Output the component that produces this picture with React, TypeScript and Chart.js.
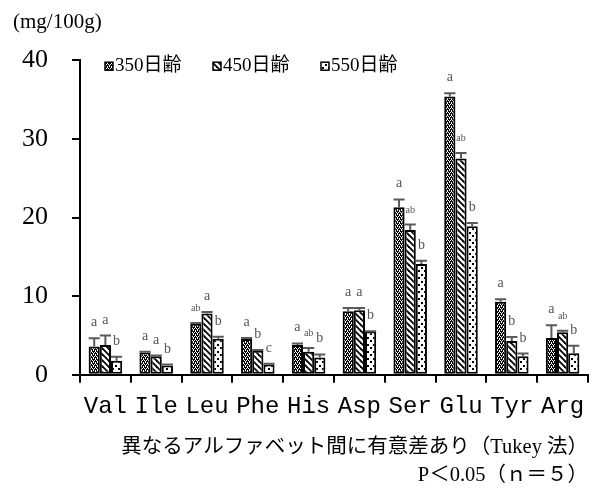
import React, { useEffect, useRef } from 'react';
import { Chart, registerables } from 'chart.js';

Chart.register(...registerables);

const categories = ['Val', 'Ile', 'Leu', 'Phe', 'His', 'Asp', 'Ser', 'Glu', 'Tyr', 'Arg'];
const seriesNames = ['350日齢', '450日齢', '550日齢'];
const mean350 = [3.6, 2.85, 6.5, 4.55, 3.8, 8.1, 21.3, 35.4, 9.3, 4.7];
const sd350 = [1.05, 0.1, 0.1, 0.15, 0.2, 0.4, 1.0, 0.4, 0.3, 1.6];
const mean450 = [3.8, 2.35, 7.8, 3.05, 2.95, 8.2, 18.4, 27.5, 4.3, 5.4];
const sd450 = [1.2, 0.1, 0.2, 0.1, 0.45, 0.3, 0.7, 0.7, 0.5, 0.2];
const mean550 = [1.8, 1.2, 4.6, 1.3, 2.2, 5.5, 14.1, 18.9, 2.35, 2.75];
const sd550 = [0.5, 0.1, 0.25, 0.1, 0.4, 0.05, 0.4, 0.4, 0.35, 0.95];
const letters350 = ['a', 'a', 'ab', 'a', 'a', 'a', 'a', 'a', 'a', 'a'];
const letters450 = ['a', 'a', 'a', 'b', 'ab', 'a', 'ab', 'ab', 'b', 'ab'];
const letters550 = ['b', 'b', 'b', 'c', 'b', 'b', 'b', 'b', 'b', 'b'];
const yTicks = [0, 10, 20, 30, 40];
const unitLabel = '(mg/100g)';
const noteLines = ['異なるアルファベット間に有意差あり（Tukey 法）', 'P＜0.05（ｎ＝５）'];

const SERIF = '"Liberation Serif", "Noto Sans CJK JP", serif';
const MONO = '"Liberation Mono", monospace';

function makePattern(kind: number): CanvasPattern | string {
  const c = document.createElement('canvas');
  const g = c.getContext('2d');
  if (!g) return '#888';
  if (kind === 0) {
    c.width = 4; c.height = 4;
    g.fillStyle = '#000';
    g.fillRect(0, 0, 4, 4);
    g.fillStyle = '#fff';
    g.fillRect(0, 0, 1, 1);
    g.fillRect(2, 0, 1, 1);
    g.fillRect(1, 2, 1, 1);
    g.fillRect(3, 2, 1, 1);
    g.fillRect(1, 1, 1, 1);
    g.fillRect(3, 3, 1, 1);
  } else if (kind === 1) {
    c.width = 6; c.height = 6;
    g.fillStyle = '#fff';
    g.fillRect(0, 0, 6, 6);
    g.strokeStyle = '#000';
    g.lineWidth = 1.8;
    for (let k = -1; k <= 1; k++) {
      g.beginPath();
      g.moveTo(k * 6 - 1, -1);
      g.lineTo(k * 6 + 7, 7);
      g.stroke();
    }
  } else {
    c.width = 6; c.height = 7;
    g.fillStyle = '#fff';
    g.fillRect(0, 0, 6, 7);
    g.fillStyle = '#000';
    g.fillRect(1, 1, 2, 2);
    g.fillRect(4, 4, 2, 2);
  }
  const p = g.createPattern(c, 'repeat');
  return p || '#888';
}

const errorPlugin = {
  id: 'errLetters',
  afterDatasetsDraw(chart: any) {
    const ctx = chart.ctx;
    const yScale = chart.scales.y;
    const sds = [sd350, sd450, sd550];
    const letters = [letters350, letters450, letters550];
    chart.data.datasets.forEach((ds: any, di: number) => {
      const meta = chart.getDatasetMeta(di);
      meta.data.forEach((bar: any, i: number) => {
        const v = ds.data[i];
        const top = yScale.getPixelForValue(v + sds[di][i]);
        const w = bar.width;
        ctx.save();
        ctx.strokeStyle = '#5a5a5a';
        ctx.lineWidth = 2;
        ctx.beginPath();
        ctx.moveTo(bar.x, bar.y);
        ctx.lineTo(bar.x, top);
        ctx.moveTo(bar.x - w / 2, top);
        ctx.lineTo(bar.x + w / 2, top);
        ctx.stroke();
        const t = letters[di][i];
        ctx.fillStyle = '#555';
        ctx.font = (t.length > 1 ? '10px ' : '14px ') + SERIF;
        ctx.textAlign = 'center';
        ctx.textBaseline = 'alphabetic';
        ctx.fillText(t, bar.x, top - 12);
        ctx.restore();
      });
    });
  },
};

const legendPlugin = {
  id: 'innerLegend',
  afterDraw(chart: any) {
    const ctx = chart.ctx;
    const area = chart.chartArea;
    ctx.save();
    chart.data.datasets.forEach((ds: any, di: number) => {
      const x = area.left + 25 + di * 108;
      const cy = area.top + 6;
      ctx.fillStyle = ds.backgroundColor;
      ctx.fillRect(x, cy - 4, 8, 8);
      ctx.strokeStyle = '#000';
      ctx.lineWidth = 1.5;
      ctx.strokeRect(x, cy - 4, 8, 8);
      ctx.fillStyle = '#000';
      ctx.font = '19px ' + SERIF;
      ctx.textAlign = 'left';
      ctx.textBaseline = 'middle';
      ctx.fillText(ds.label, x + 10, cy);
    });
    ctx.restore();
  },
};

export default function App() {
  const ref = useRef<HTMLCanvasElement | null>(null);
  useEffect(() => {
    document.body.style.margin = '0';
    document.body.style.overflow = 'hidden';
    const canvas = ref.current;
    if (!canvas) return;
    const means = [mean350, mean450, mean550];
    const chart = new Chart(canvas, {
      type: 'bar',
      data: {
        labels: categories,
        datasets: seriesNames.map((name, i) => ({
          label: name,
          data: means[i],
          backgroundColor: makePattern(i) as any,
          borderColor: '#000',
          borderWidth: 2,
          borderSkipped: false,
          categoryPercentage: 0.66,
          barPercentage: 1.0,
        })),
      },
      options: {
        responsive: false,
        animation: false,
        devicePixelRatio: 1,
        layout: { padding: { top: 10, left: 13, right: 7, bottom: 0 } },
        plugins: {
          legend: { display: false },
          tooltip: { enabled: false },
          subtitle: {
            display: true,
            text: unitLabel,
            align: 'start',
            position: 'top',
            color: '#000',
            font: { family: SERIF, size: 21, weight: 'normal', lineHeight: 1.2 },
            padding: { top: 0, bottom: 25 },
          },
          title: {
            display: true,
            text: noteLines,
            position: 'bottom',
            align: 'end',
            color: '#000',
            font: { family: SERIF, size: 20.5, weight: 'normal', lineHeight: 1.35 },
            padding: { top: 4, bottom: 0 },
          },
        },
        scales: {
          x: {
            grid: { offset: true, drawOnChartArea: false, drawTicks: true, tickLength: 8, color: '#000', lineWidth: 2 },
            border: { display: true, color: '#000', width: 2 },
            ticks: { font: { family: MONO, size: 24 }, color: '#000', padding: 9, maxRotation: 0, autoSkip: false },
          },
          y: {
            min: 0,
            max: 40,
            afterFit: (s: any) => { s.width = 67; },
            afterBuildTicks: (s: any) => { s.ticks = yTicks.map((v) => ({ value: v })); },
            ticks: { stepSize: 10, font: { family: SERIF, size: 26 }, color: '#000', padding: 24 },
            grid: { drawOnChartArea: false, drawTicks: true, tickLength: 8, color: '#000', lineWidth: 2 },
            border: { display: true, color: '#000', width: 2 },
          },
        },
      },
      plugins: [errorPlugin, legendPlugin],
    });
    return () => chart.destroy();
  }, []);
  return (
    <div style={{ width: 595, height: 489, background: '#fff' }}>
      <canvas ref={ref} width={595} height={489} style={{ display: 'block' }} />
    </div>
  );
}
